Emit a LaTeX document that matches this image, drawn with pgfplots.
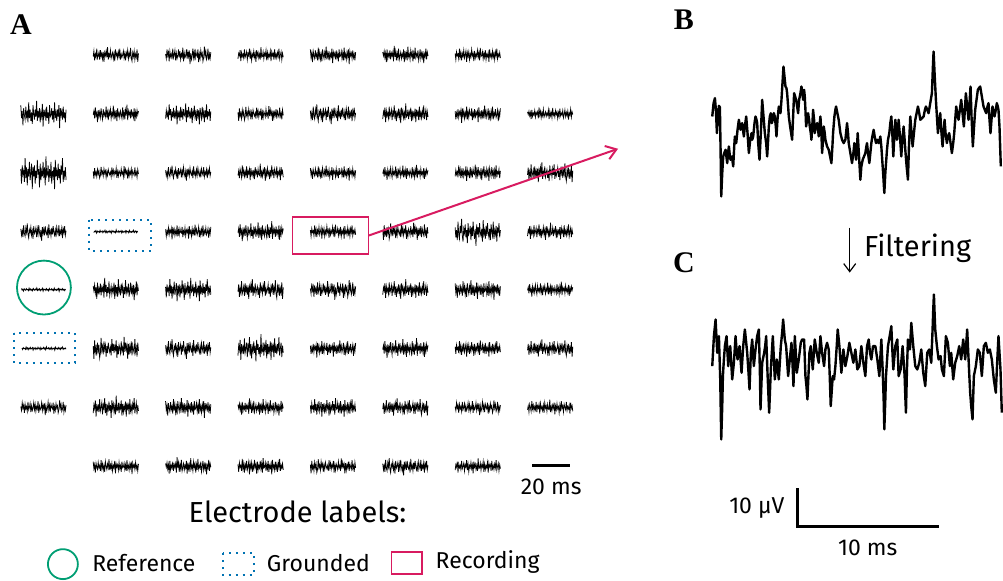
\documentclass[border=0pt]{standalone}
\usepackage{pgfplots}
\pgfplotsset{compat=1.18}
\usepackage{pgfplotstable}
\usetikzlibrary{arrows.meta}
\usepackage{fontspec}
\setmainfont{Fira Sans}
\newfontfamily\labfont{Liberation Serif}
\definecolor{refc}{HTML}{009E73}
\definecolor{gndc}{HTML}{0072B2}
\definecolor{recc}{HTML}{D81B60}

% small noise snippets (normalised amplitude)
\pgfplotstableread[row sep=\\]{v\\
0.2\\-0.5\\0.7\\-0.1\\0.3\\-0.8\\0.4\\0.1\\-0.3\\0.6\\-0.6\\0.2\\-0.2\\0.5\\-0.4\\0.9\\
-0.3\\0.1\\-0.5\\0.3\\-1.0\\0.6\\-0.1\\0.2\\-0.6\\0.4\\0.0\\-0.3\\0.5\\-0.2\\0.8\\-0.7\\
0.1\\-0.2\\0.4\\-0.4\\0.2\\-0.8\\0.6\\-0.1\\0.3\\0.0\\-0.5\\0.4\\-0.2\\0.7\\-0.3\\0.1\\
-0.6\\0.5\\-0.2\\0.2\\-0.9\\0.4\\0.8\\-0.3\\0.2\\-0.5\\0.6\\-0.1\\0.3\\-0.7\\0.9\\-0.2\\
}\NA
\pgfplotstableread[row sep=\\]{v\\
-0.3\\0.4\\-0.1\\0.6\\-0.7\\0.2\\0.5\\-0.4\\0.1\\-0.9\\0.3\\0.7\\-0.2\\0.1\\-0.5\\0.4\\
-0.1\\0.8\\-0.6\\0.2\\0.0\\-0.4\\0.6\\-0.3\\0.3\\-0.7\\0.1\\0.5\\-0.2\\1.0\\-0.5\\0.2\\
-0.3\\0.4\\-0.6\\0.1\\0.3\\-0.2\\0.7\\-0.8\\0.2\\-0.1\\0.5\\-0.4\\0.3\\-0.6\\0.1\\0.4\\
-0.2\\0.6\\-0.5\\0.0\\0.3\\-0.7\\0.5\\-0.1\\0.2\\-0.4\\0.7\\-0.3\\0.1\\-0.6\\0.4\\-0.1\\
}\NB
\pgfplotstableread[row sep=\\]{v\\
0.5\\-0.2\\0.1\\-0.6\\0.8\\-0.3\\0.2\\-0.1\\0.4\\-0.7\\0.3\\0.0\\-0.4\\0.6\\-0.2\\0.1\\
-0.8\\0.5\\-0.3\\0.7\\-0.1\\0.2\\-0.5\\0.3\\-0.2\\0.9\\-0.6\\0.1\\-0.3\\0.4\\-0.1\\0.6\\
-1.0\\0.3\\0.2\\-0.4\\0.5\\-0.2\\0.1\\-0.6\\0.7\\-0.3\\0.4\\-0.1\\0.2\\-0.5\\0.8\\-0.4\\
0.1\\-0.2\\0.6\\-0.7\\0.3\\-0.1\\0.4\\-0.3\\0.2\\-0.8\\0.5\\0.0\\-0.4\\0.6\\-0.2\\0.3\\
}\NC
\pgfplotstableread[row sep=\\]{v\\
-0.6\\0.3\\-0.2\\0.8\\-0.4\\0.1\\0.4\\-0.5\\0.2\\-0.1\\0.6\\-0.8\\0.3\\-0.3\\0.5\\-0.1\\
0.7\\-0.6\\0.0\\0.4\\-0.3\\0.2\\-0.9\\0.5\\-0.2\\0.3\\-0.4\\0.6\\-0.1\\0.2\\-0.7\\0.9\\
-0.3\\0.1\\-0.2\\0.5\\-0.5\\0.3\\-0.1\\0.7\\-0.6\\0.2\\0.1\\-0.4\\0.4\\-0.2\\0.6\\-0.8\\
0.3\\-0.1\\0.5\\-0.3\\0.2\\-0.6\\1.0\\-0.4\\0.1\\-0.2\\0.4\\-0.5\\0.3\\-0.1\\0.6\\-0.3\\
}\ND
\pgfplotstableread[row sep=\\]{v\\
0.1\\-0.3\\0.5\\-0.7\\0.2\\-0.1\\0.9\\-0.4\\0.3\\-0.2\\0.4\\-0.6\\0.1\\0.6\\-0.5\\0.2\\
-0.1\\0.3\\-0.8\\0.4\\-0.2\\0.7\\-0.3\\0.1\\-0.5\\0.5\\-0.1\\0.2\\-0.9\\0.6\\-0.2\\0.3\\
-0.4\\0.8\\-0.6\\0.2\\-0.1\\0.4\\-0.3\\0.1\\0.5\\-0.7\\0.3\\-0.2\\0.6\\-0.4\\0.2\\-1.0\\
0.7\\-0.3\\0.1\\-0.2\\0.5\\-0.5\\0.2\\-0.1\\0.4\\-0.6\\0.8\\-0.2\\0.3\\-0.4\\0.1\\-0.3\\
}\NE
\pgfplotstableread[row sep=\\]{v\\
-0.2\\0.6\\-0.4\\0.1\\-0.1\\0.5\\-0.8\\0.3\\-0.3\\0.7\\-0.2\\0.2\\-0.6\\0.4\\0.0\\-0.5\\
0.9\\-0.3\\0.2\\-0.4\\0.6\\-0.1\\0.3\\-0.7\\0.1\\-0.2\\0.8\\-0.5\\0.4\\-0.1\\0.2\\-0.6\\
0.3\\-0.3\\0.7\\-0.9\\0.2\\0.1\\-0.4\\0.5\\-0.2\\0.3\\-0.6\\0.6\\-0.1\\0.2\\-0.3\\0.9\\
-0.7\\0.2\\-0.1\\0.4\\-0.5\\0.3\\-0.2\\0.6\\-0.4\\0.1\\-0.8\\0.5\\-0.1\\0.2\\-0.3\\0.4\\
}\NF

% panel B raw trace (picture units)
\pgfplotstableread[row sep=\\]{x y\\
70 350\\74 310\\78 295\\81 330\\84 400\\87 350\\90 318\\93 322\\95 450\\97 590\\
100 520\\103 470\\106 460\\110 450\\113 475\\115 490\\118 455\\120 440\\123 470\\125 480\\
129 470\\133 500\\136 440\\138 410\\140 425\\142 430\\146 390\\150 360\\153 380\\155 390\\
158 375\\160 370\\163 395\\165 410\\168 380\\172 350\\176 400\\180 460\\184 420\\188 400\\
190 420\\193 410\\197 370\\200 350\\203 360\\205 370\\208 430\\212 480\\216 400\\220 300\\
224 350\\228 400\\232 430\\235 470\\238 420\\240 380\\243 350\\246 340\\249 370\\252 360\\
255 340\\258 350\\261 380\\263 410\\266 360\\270 320\\273 330\\275 340\\278 300\\281 250\\
284 200\\287 230\\290 260\\293 265\\295 280\\298 320\\300 350\\304 380\\307 400\\310 420\\
313 350\\316 280\\319 290\\322 300\\325 320\\328 340\\331 300\\335 280\\338 260\\341 280\\
343 300\\346 270\\348 290\\350 330\\352 380\\355 360\\358 340\\361 360\\363 380\\366 400\\
368 420\\371 370\\373 330\\376 360\\378 400\\381 380\\385 370\\388 390\\390 410\\393 370\\
395 350\\398 400\\400 460\\403 420\\405 380\\408 400\\410 420\\415 440\\420 450\\424 470\\
428 490\\431 440\\433 400\\437 350\\440 330\\442 320\\446 340\\450 360\\455 400\\460 420\\
465 430\\470 420\\473 390\\475 370\\478 400\\480 430\\485 460\\490 490\\494 460\\497 430\\
500 450\\502 480\\505 440\\507 400\\511 470\\515 540\\518 500\\522 480\\526 470\\530 460\\
533 440\\535 430\\538 460\\542 490\\545 460\\548 430\\551 410\\555 390\\558 410\\562 430\\
566 420\\570 430\\573 420\\575 410\\578 440\\580 470\\584 530\\587 580\\590 520\\595 450\\
598 420\\602 400\\605 370\\608 350\\611 400\\614 470\\617 410\\620 360\\623 390\\625 420\\
628 390\\630 360\\634 410\\638 470\\641 420\\645 380\\648 420\\650 450\\654 500\\658 540\\
661 440\\665 350\\668 390\\672 440\\676 400\\680 360\\684 340\\688 320\\692 340\\695 360\\
700 355\\705 350\\709 330\\712 320\\716 330\\720 340\\725 310\\730 280\\733 200\\735 155\\
738 220\\742 300\\745 350\\748 400\\751 370\\755 340\\758 390\\762 440\\765 400\\768 360\\
771 400\\775 430\\778 410\\782 400\\786 430\\790 460\\794 430\\797 400\\800 360\\803 320\\
806 340\\810 360\\814 330\\818 300\\822 340\\826 380\\829 330\\832 280\\836 320\\840 360\\
843 310\\846 260\\849 350\\853 440\\856 390\\860 330\\864 300\\868 270\\871 265\\875 260\\
880 290\\885 320\\889 330\\893 340\\897 320\\900 310\\903 360\\906 400\\909 360\\912 320\\
915 335\\918 350\\922 330\\925 310\\928 320\\930 330\\933 380\\937 500\\
}\TB

% panel C filtered trace (picture units)
\pgfplotstableread[row sep=\\]{x y\\
70 440\\75 350\\80 300\\85 400\\90 350\\94 480\\97 660\\100 560\\102 470\\105 420\\
108 380\\113 350\\118 440\\121 400\\124 380\\127 430\\130 480\\135 430\\140 350\\143 390\\
146 420\\152 380\\155 420\\158 460\\163 380\\168 330\\172 370\\175 400\\179 460\\182 510\\
186 400\\190 360\\195 440\\200 390\\205 350\\210 330\\213 450\\215 570\\220 430\\226 400\\
229 380\\232 350\\236 460\\241 580\\246 450\\249 400\\252 350\\258 480\\264 420\\270 480\\
276 380\\280 340\\283 300\\288 360\\292 380\\298 470\\302 430\\308 370\\311 430\\314 500\\
318 350\\321 400\\324 460\\330 420\\336 370\\340 360\\346 360\\350 470\\353 500\\356 540\\
362 400\\366 380\\372 450\\378 360\\384 400\\390 430\\395 350\\400 400\\406 440\\410 390\\
415 370\\420 390\\423 470\\426 560\\432 470\\436 480\\440 440\\444 380\\447 330\\452 380\\
458 460\\464 390\\470 440\\476 410\\482 370\\488 400\\494 430\\500 390\\506 450\\512 440\\
518 380\\524 430\\530 470\\535 380\\540 360\\544 400\\548 420\\553 380\\560 380\\566 420\\
572 470\\578 360\\582 450\\585 540\\587 630\\590 540\\592 470\\598 380\\603 350\\608 320\\
611 390\\614 450\\620 380\\626 360\\630 470\\636 450\\642 380\\648 470\\650 530\\652 580\\
655 450\\658 360\\664 390\\668 310\\674 380\\680 440\\686 450\\692 430\\698 390\\704 460\\
710 500\\716 400\\722 390\\728 430\\732 330\\734 270\\736 225\\738 280\\740 330\\745 380\\
750 420\\756 410\\760 450\\766 470\\772 350\\778 370\\784 440\\788 400\\794 480\\800 430\\
806 410\\812 380\\818 420\\824 360\\830 420\\836 330\\842 460\\845 520\\848 560\\852 600\\
856 470\\862 440\\868 390\\874 400\\880 470\\886 380\\892 370\\898 400\\904 390\\910 420\\
916 480\\922 520\\926 430\\930 350\\936 450\\940 580\\
}\TC

% electrode trace: x centre, y centre, table, amplitude (px), x step (px, sign flips)
\newcommand{\tr}[5]{\addplot[black, line width=0.38pt] table[x index=0, y index=0, x expr={#1+(#5)*(\coordindex-31.5)}, y expr={#2+1.3*(#4)*\thisrowno{0}}] {#3};}

\begin{document}
\begin{tikzpicture}
\begin{axis}[
  width=501.5pt, height=290.5pt, scale only axis,
  xmin=0, xmax=1003, ymin=0, ymax=581, y dir=reverse,
  hide axis, clip=false,
]
\path (axis cs:0,0) rectangle (axis cs:1003,581);

% Row 1
\tr{116}{55}{\NA}{6}{0.72}
\tr{188.5}{55}{\NB}{7}{-0.72}
\tr{261}{55}{\NC}{6}{0.72}
\tr{333.5}{55}{\ND}{7}{0.72}
\tr{406}{55}{\NE}{7}{-0.72}
\tr{478.5}{55}{\NF}{6}{0.72}
% Row 2
\tr{43.5}{114}{\ND}{11}{0.72}
\tr{116}{114}{\NE}{7}{0.72}
\tr{188.5}{114}{\NF}{9}{-0.72}
\tr{261}{114}{\NA}{6}{-0.72}
\tr{333.5}{114}{\NB}{8}{0.72}
\tr{406}{114}{\NC}{8}{0.72}
\tr{478.5}{114}{\ND}{7}{-0.72}
\tr{551}{114}{\NE}{5}{-0.72}
% Row 3
\tr{43.5}{173}{\NF}{14}{0.72}
\tr{116}{173}{\NA}{5}{-0.72}
\tr{188.5}{173}{\NB}{6}{0.72}
\tr{261}{173}{\NC}{7}{-0.72}
\tr{333.5}{173}{\ND}{6}{0.72}
\tr{406}{173}{\NE}{6}{0.72}
\tr{478.5}{173}{\NF}{7}{-0.72}
\tr{551}{173}{\NA}{8}{0.72}
% Row 4
\tr{43.5}{232}{\NB}{7}{0.72}
\tr{116}{232}{\NC}{1.4}{0.7}
\tr{188.5}{232}{\ND}{6}{-0.72}
\tr{261}{232}{\NE}{8}{0.72}
\tr{333.5}{232}{\NF}{6}{0.72}
\tr{406}{232}{\NA}{7}{-0.72}
\tr{478.5}{232}{\NB}{11}{0.72}
\tr{551}{232}{\NC}{7}{0.72}
% Row 5
\tr{43.5}{290}{\ND}{1.4}{0.7}
\tr{116}{290}{\NE}{9}{-0.72}
\tr{188.5}{290}{\NF}{10}{0.72}
\tr{261}{290}{\NA}{8}{0.72}
\tr{333.5}{290}{\NB}{8}{-0.72}
\tr{406}{290}{\NC}{8}{0.72}
\tr{478.5}{290}{\ND}{8}{0.72}
\tr{551}{290}{\NE}{6}{0.72}
% Row 6
\tr{44}{349}{\NF}{1.4}{0.7}
\tr{116}{349}{\NA}{9}{-0.72}
\tr{188.5}{349}{\NB}{8}{0.72}
\tr{261}{349}{\NC}{11}{0.72}
\tr{333.5}{349}{\ND}{7}{-0.72}
\tr{406}{349}{\NE}{8}{0.72}
\tr{478.5}{349}{\NF}{7}{0.72}
\tr{551}{349}{\NA}{7}{0.72}
% Row 7
\tr{43.5}{408}{\NB}{6}{-0.72}
\tr{116}{408}{\NC}{9}{0.72}
\tr{188.5}{408}{\ND}{8}{0.72}
\tr{261}{408}{\NE}{7}{-0.72}
\tr{333.5}{408}{\NF}{8}{0.72}
\tr{406}{408}{\NA}{7}{0.72}
\tr{478.5}{408}{\NB}{6}{-0.72}
\tr{551}{408}{\NC}{6}{-0.72}
% Row 8
\tr{116}{467}{\ND}{6}{0.72}
\tr{188.5}{467}{\NE}{7}{-0.72}
\tr{261}{467}{\NF}{7}{0.72}
\tr{333.5}{467}{\NA}{6}{-0.72}
\tr{406}{467}{\NB}{7}{0.72}
\tr{478.5}{467}{\NC}{6}{0.72}

% Panel B and C traces
\addplot[black, line width=1.2pt, line join=round] table[x expr={690+\thisrow{x}/3}, y expr={\thisrow{y}/3}] {\TB};
\addplot[black, line width=1.2pt, line join=round] table[x expr={690+\thisrow{x}/3}, y expr={220+\thisrow{y}/3}] {\TC};

% electrode markers
\draw[refc, line width=0.9pt] (axis cs:44,288) circle[radius=13.5pt];
\draw[gndc, line width=1pt, dash pattern=on 1pt off 2.5pt] (axis cs:89,220) rectangle (axis cs:151,251);
\draw[gndc, line width=1pt, dash pattern=on 1pt off 2.5pt] (axis cs:14,334) rectangle (axis cs:75,364);
\draw[recc, line width=0.9pt] (axis cs:293,217) rectangle (axis cs:369,254);
\draw[recc, line width=1pt, -{Straight Barb[length=5pt,width=7pt]}] (axis cs:369,236) -- (axis cs:619,149);

% scale bar A
\draw[black, line width=1.5pt] (axis cs:533,466) -- (axis cs:571,466);
\node[anchor=base, font=\fontsize{11.5}{13}\selectfont, inner sep=0pt] at (axis cs:552,495) {20 ms};

% panel letters
\node[font=\labfont\bfseries\fontsize{15}{17}\selectfont, inner sep=0pt] at (axis cs:21,25) {A};
\node[font=\labfont\bfseries\fontsize{15}{17}\selectfont, inner sep=0pt] at (axis cs:685,20) {B};
\node[font=\labfont\bfseries\fontsize{15}{17}\selectfont, inner sep=0pt] at (axis cs:685,263) {C};

% filtering arrow
\draw[black, line width=0.6pt, -{Straight Barb[length=4pt,width=6pt]}] (axis cs:851,228) -- (axis cs:851,273);
\node[anchor=base west, font=\fontsize{14.5}{16}\selectfont, inner sep=0pt] at (axis cs:865,257) {Filtering};

% scale bar B/C
\draw[black, line width=1.5pt] (axis cs:799,489) -- (axis cs:799,527) -- (axis cs:940,527);
\node[anchor=base east, font=\fontsize{11.5}{13}\selectfont, inner sep=0pt] at (axis cs:786,514) {10 μV};
\node[anchor=base, font=\fontsize{11.5}{13}\selectfont, inner sep=0pt] at (axis cs:869,556) {10 ms};

% legend
\node[anchor=base, font=\fontsize{14.5}{16}\selectfont, inner sep=0pt] at (axis cs:298,523) {Electrode labels:};
\draw[refc, line width=0.9pt] (axis cs:63,565) circle[radius=7.5pt];
\node[anchor=base west, font=\fontsize{11.5}{13}\selectfont, inner sep=0pt] at (axis cs:92,572) {Reference};
\draw[gndc, line width=1pt, dash pattern=on 1pt off 2.5pt] (axis cs:223,554) rectangle (axis cs:254,576);
\node[anchor=base west, font=\fontsize{11.5}{13}\selectfont, inner sep=0pt] at (axis cs:267,572) {Grounded};
\draw[recc, line width=0.9pt] (axis cs:392,553) rectangle (axis cs:423,575);
\node[anchor=base west, font=\fontsize{11.5}{13}\selectfont, inner sep=0pt] at (axis cs:436,569) {Recording};
\end{axis}
\end{tikzpicture}
\end{document}
